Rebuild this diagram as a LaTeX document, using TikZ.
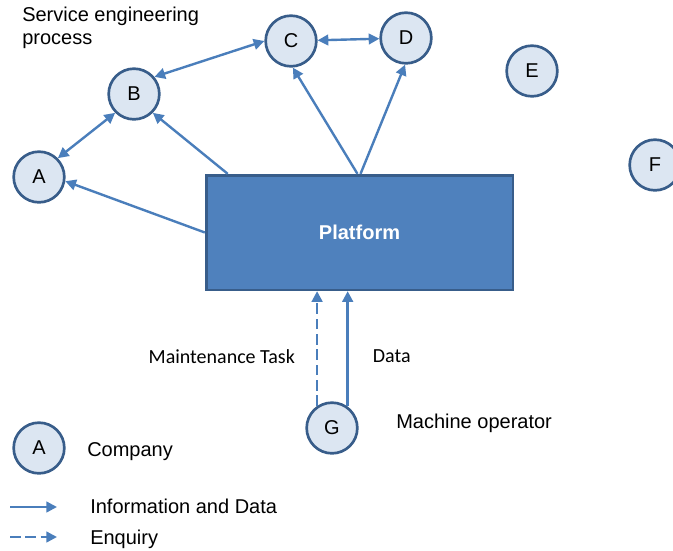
\documentclass[tikz,border=0pt]{standalone}
\usepackage{fontspec}
\setmainfont{Liberation Sans}
\newfontfamily\calibri{Carlito}
\usetikzlibrary{arrows.meta}
\definecolor{linkblue}{HTML}{4A7EBB}
\definecolor{rimblue}{HTML}{385D8A}
\definecolor{paleblue}{HTML}{DCE6F2}
\definecolor{boxblue}{HTML}{4F81BD}
\tikzstyle{company} = [circle, minimum size=38pt, inner sep=0pt, draw=rimblue, line width=2pt, fill=paleblue, font=\fontsize{15}{18}\selectfont]
\tikzstyle{platform} = [rectangle, minimum width=230pt, minimum height=86pt, inner sep=0pt, draw=rimblue, line width=2pt, fill=boxblue, text=white, font=\fontsize{15}{18}\selectfont\bfseries]
\tikzstyle{caption} = [inner sep=0pt, anchor=base west, font=\fontsize{15}{18}\selectfont]
\tikzstyle{tasklabel} = [inner sep=0pt, font=\calibri\fontsize{15}{18}\selectfont]
\tikzstyle{arrow} = [draw=linkblue, line width=1.8pt, -{Triangle[length=8pt,width=8pt]}]
\tikzstyle{biarrow} = [arrow, {Triangle[length=8pt,width=8pt]}-{Triangle[length=8pt,width=8pt]}]
\tikzstyle{enquiry} = [arrow, dash pattern=on 8pt off 3.5pt]

\begin{document}
\begin{tikzpicture}[x=0.75pt, y=-0.75pt]
            \useasboundingbox (0,0) rectangle (673,550);
            \node [company] at (39,177) (a) {A};
            \node [company] at (134,94) (b) {B};
            \node [company] at (291,41) (c) {C};
            \node [company] at (406,38) (d) {D};
            \node [company] at (532,71) (e) {E};
            \node [company] at (655,165) (f) {F};
            \node [company] at (332,428) (g) {G};
            \node [platform] at (359.5,232.5) (platform) {Platform};

            \node [caption, anchor=north west, align=left, font=\fontsize{15}{17}\selectfont] at (22,7) (title) {Service engineering\\process};
            \node [caption] at (396,428) (operator) {Machine operator};

            \draw [biarrow] (a.45) -- (b.225);
            \draw [biarrow] (b.40) -- (c.180);
            \draw [biarrow] (c) -- (d);
            \draw [arrow] (platform.west) -- (a.-9);
            \draw [arrow] (platform.156) -- (b.-45);
            \draw [arrow] (platform.92) -- (c.-86);
            \draw [arrow] (platform.89) -- (d.-92);
            \draw [enquiry] (g.124) -- node[tasklabel, pos=0.37, anchor=base east, xshift=-15.75pt] {Maintenance Task} (g.124 |- platform.south);
            \draw [arrow] (g.54) -- node[tasklabel, pos=0.38, anchor=base west, xshift=18pt] {Data} (g.54 |- platform.south);

            % legend
            \node [company] at (39,448) (key) {A};
            \node [caption] at (87,456) (keytext) {Company};
            \coordinate (solidfrom) at (10,507);
            \coordinate (solidto) at (57,507);
            \coordinate (dashfrom) at (10,537);
            \coordinate (dashto) at (57,537);
            \draw [arrow] (solidfrom) -- (solidto);
            \draw [enquiry] (dashfrom) -- (dashto);
            \node [caption] at (90,513) (solidtext) {Information and Data};
            \node [caption] at (90,544) (dashtext) {Enquiry};
\end{tikzpicture}
\end{document}
